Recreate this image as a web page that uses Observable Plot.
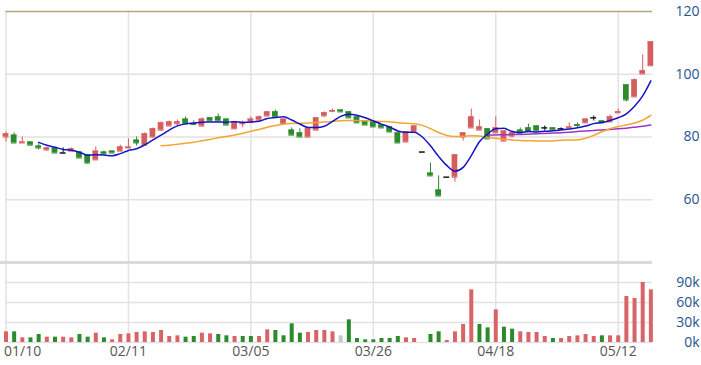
<!DOCTYPE html>
<html><head><meta charset="utf-8">
<script src="https://cdn.jsdelivr.net/npm/d3@7"></script>
<script src="https://cdn.jsdelivr.net/npm/@observablehq/plot@0.6"></script>
<style>
html,body{margin:0;padding:0;background:#fff;}
#chart{width:701px;height:365px;position:relative;overflow:hidden;background:#fff;}
#chart svg{display:block;position:absolute;left:0;}
</style></head><body><div id="chart"></div>
<script>
// ---- data ----
const tickIndex  = [0, 15, 30, 45, 60, 75];
const tickLabels = ["01/10", "02/11", "03/05", "03/26", "04/18", "05/12"];

const open  = [80.0,80.6,78.1,78.4,77.1,75.9,76.5,74.9,75.5,75.2,74.3,72.7,75.2,75.5,75.5,76.5,79.0,77.4,80.0,82.2,
               83.5,84.2,85.7,84.3,83.5,86.1,86.4,85.7,82.6,84.2,84.8,85.4,86.7,88.0,84.2,82.2,81.3,80.0,82.2,86.7,
               88.2,88.6,88.0,86.4,85.1,84.8,83.8,83.2,81.3,78.4,81.6,75.2,68.5,63.1,67.2,67.2,80.0,82.9,82.2,82.6,
               81.3,78.7,80.3,82.2,82.9,83.5,82.9,82.9,82.6,82.9,83.9,84.5,86.1,85.1,84.8,87.7,96.6,92.8,100.1,102.7];
const high  = [81.6,81.3,80.0,78.4,77.8,76.8,76.5,76.5,76.5,75.2,74.3,76.8,75.5,75.5,77.4,79.4,80.0,81.3,82.9,84.8,
               85.1,85.4,86.4,85.1,86.1,86.1,87.3,85.7,84.8,85.1,86.4,86.7,88.0,88.6,85.7,82.9,82.6,82.6,86.1,88.0,
               88.9,88.6,88.0,86.4,85.1,84.8,83.8,83.2,81.3,81.6,83.5,75.2,71.7,67.6,67.2,74.3,81.3,88.9,85.4,82.6,
               86.4,81.9,81.9,82.9,84.1,83.5,83.5,82.9,82.9,84.5,84.5,85.7,86.7,85.1,87.0,88.9,96.6,98.5,106.2,110.3];
const low   = [78.4,78.1,78.1,77.4,75.9,75.5,74.9,74.9,75.5,73.3,71.4,72.7,74.3,74.9,75.5,76.5,77.1,77.1,79.7,81.9,
               83.5,83.5,84.2,84.0,83.2,85.1,85.1,83.8,82.6,82.9,84.2,85.4,86.7,86.4,84.2,80.6,80.0,80.0,82.2,86.4,
               87.7,88.0,86.1,84.5,83.8,83.2,82.9,81.6,78.1,78.4,81.6,75.2,67.6,61.2,67.2,65.6,78.7,82.9,82.2,79.4,
               81.3,78.7,79.7,81.3,81.6,81.9,81.9,82.2,82.3,82.9,82.9,84.5,85.1,84.5,84.8,87.7,91.2,92.8,100.1,102.7];
const close = [81.0,78.1,78.4,77.4,76.5,76.5,74.9,74.9,76.2,73.3,71.7,75.5,74.6,74.9,76.8,76.8,78.1,81.0,82.6,84.5,
               84.8,84.8,84.2,84.0,85.7,85.1,85.1,83.8,84.8,84.5,85.7,86.4,88.0,86.4,85.7,80.6,80.0,82.6,86.1,87.7,
               88.4,88.0,86.1,84.5,83.8,83.2,82.9,81.6,78.1,81.6,83.5,75.2,67.6,61.2,67.2,74.3,81.3,86.4,83.2,79.4,
               82.9,81.9,81.3,81.3,81.6,81.9,82.9,82.2,82.6,83.2,83.7,85.7,86.1,84.5,86.4,88.0,91.8,98.2,101.1,110.3];
// volume in thousands, and colour category of each volume bar
const volumeK = [16,16,7,7,12,8,8,8,7,12,8,14,7,4,12,13,15,16,15,18,
                 9,10,8,9,14,13,12,10,9,9,9,9,19,18,10,28,14,15,18,18,
                 16,10,34,6,4,4,6,6,9,7,6,0,12,16,3,16,27,79,27,22,
                 49,23,20,16,15,15,9,6,6,9,10,12,9,10,10,10,69,66,90,79];
const volumeDir = ["u","d","u","d","d","u","d","u","u","d","d","u","d","u","u","u","u","u","u","u",
                   "u","u","d","d","u","u","d","d","u","d","d","u","u","d","d","d","d","u","u","u",
                   "u","n","d","d","d","d","d","d","d","u","u","n","d","d","u","u","u","u","d","d",
                   "u","d","d","u","u","u","u","d","u","u","u","u","u","d","u","u","u","u","u","u"];
const priceTicks  = [60, 80, 100, 120];
const volumeTicks = [0, 30000, 60000, 90000];

// ---- tables built from the arrays ----
const candles = open.map((o, i) => ({
  i, open: o, high: high[i], low: low[i], close: close[i],
  dir: close[i] > o ? "up" : close[i] < o ? "down" : "flat"
}));
const vols = volumeK.map((v, i) => ({i, v: v * 1000, dir: volumeDir[i]}));
const ticks = tickIndex.map((i, k) => ({i, label: tickLabels[k]}));

const RED = "#d65d5d", GREEN = "#2b8a2b", BLACK = "#111";
const GRID = "#e2e2e2", AXIS_TEXT = "#24548f";
const font = {fontFamily: "'Open Sans', 'Noto Sans', sans-serif", fontSize: "14px", background: "transparent", overflow: "visible"};
const W = 701, ML = 5.5, MR = 49, XD = [0, 79.2];

const price = Plot.plot({
  width: W, height: 262, marginTop: 11, marginBottom: 0, marginLeft: ML, marginRight: MR,
  x: {domain: XD, axis: null},
  y: {domain: [40, 120], axis: null},
  color: {domain: ["up", "down", "flat"], range: [RED, GREEN, BLACK]},
  style: font,
  marks: [
    Plot.ruleY([60, 80, 100], {stroke: GRID, strokeWidth: 1.5}),
    Plot.ruleX(tickIndex, {stroke: GRID, strokeWidth: 1.5}),
    Plot.ruleY([120], {stroke: "#b5a679", strokeWidth: 1.5}),
    Plot.ruleX(candles, {x: "i", y1: "low", y2: "high", stroke: "dir", strokeWidth: 1}),
    Plot.rect(candles, {x1: d => d.i - 0.35, x2: d => d.i + 0.35, y1: "open", y2: "close", fill: "dir"}),
    Plot.ruleY(candles, {y: "close", x1: d => d.i - 0.35, x2: d => d.i + 0.35, stroke: "dir"}),
    Plot.ruleY(candles, {y: "open", x1: d => d.i - 0.35, x2: d => d.i + 0.35, stroke: "dir"}),
    Plot.lineY(candles, Plot.windowY({k: 60, anchor: "end", strict: true}, {x: "i", y: "close", stroke: "#9b35c9", strokeWidth: 1.5, curve: "monotone-x"})),
    Plot.lineY(candles, Plot.windowY({k: 20, anchor: "end", strict: true}, {x: "i", y: "close", stroke: "#f2a531", strokeWidth: 1.5, curve: "monotone-x"})),
    Plot.lineY(candles, Plot.windowY({k: 5, anchor: "end", strict: true}, {x: "i", y: "close", stroke: "#1414c4", strokeWidth: 1.5, curve: "monotone-x"})),
    Plot.text(priceTicks, {y: d => d, text: d => String(d), frameAnchor: "right", dx: 47, textAnchor: "end", fill: AXIS_TEXT, fontSize: 14})
  ]
});
price.style.top = "0px";

const volume = Plot.plot({
  width: W, height: 105, marginTop: 2, marginBottom: 23, marginLeft: ML, marginRight: MR,
  x: {domain: XD, axis: null},
  y: {domain: [0, 120000], axis: null},
  color: {domain: ["u", "d", "n"], range: ["#d86565", GREEN, "#c8c8c8"]},
  style: font,
  marks: [
    Plot.ruleY([0, 30000, 60000, 90000], {stroke: GRID, strokeWidth: 1.5}),
    Plot.ruleX(tickIndex, {stroke: GRID, strokeWidth: 1.5}),
    Plot.ruleY([120000], {stroke: "#dadada", strokeWidth: 3, x1: -0.7, x2: 79.2}),
    Plot.ruleX(vols, {x: "i", y1: 0, y2: "v", stroke: "dir", strokeWidth: 4}),
    Plot.text(volumeTicks, {y: d => d, text: d => `${d / 1000}k`, frameAnchor: "right", dx: 47, textAnchor: "end", fill: AXIS_TEXT, fontSize: 14}),
    Plot.text(ticks.slice(0, 1), {x: "i", text: "label", frameAnchor: "bottom", dy: 13, dx: -2, textAnchor: "start", fill: "#555", fontSize: 14}),
    Plot.text(ticks.slice(1), {x: "i", text: "label", frameAnchor: "bottom", dy: 13, fill: "#555", fontSize: 14})
  ]
});
volume.style.top = "260px";

const root = document.getElementById("chart");
root.appendChild(price);
root.appendChild(volume);
</script>
</body></html>
